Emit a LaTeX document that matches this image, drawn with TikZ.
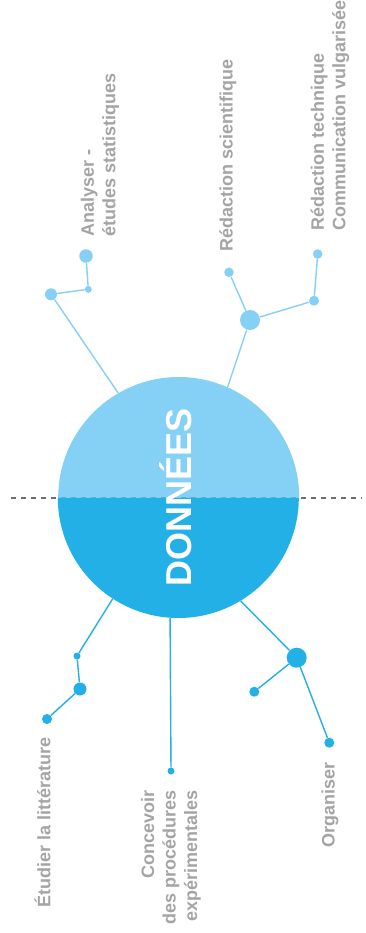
\documentclass[tikz,border=0pt]{standalone}
\usepackage{fontspec}
\setmainfont{Liberation Sans}
\definecolor{cUp}{HTML}{85D0F5}
\definecolor{cLo}{HTML}{22B0E6}
\definecolor{cTxt}{HTML}{A4A4A4}
\definecolor{cDash}{HTML}{6D6E70}
\tikzset{
  dotU/.style={circle, fill=cUp, inner sep=0pt, draw=none},
  dotL/.style={circle, fill=cLo, inner sep=0pt, draw=none},
  linkU/.style={draw=cUp, line width=1.4pt},
  linkL/.style={draw=cLo, line width=1.4pt},
  lab/.style={rotate=90, inner sep=0pt, text=cTxt, font=\bfseries\fontsize{18}{21.5}\selectfont},
}
\begin{document}
\begin{tikzpicture}[x=1pt, y=-1pt]
\useasboundingbox (0,0) rectangle (366,933);
% dashed axis
\draw[cDash, line width=2pt, dash pattern=on 5pt off 5pt] (11,497.5) -- (362,497.5);
% central circle
\node[circle, minimum size=241pt, inner sep=0pt] (D) at (178.5,497.5) {};
\fill[cUp] (D.east) arc[start angle=0, end angle=180, radius=120.5pt] -- cycle;
\fill[cLo] (D.west) arc[start angle=180, end angle=360, radius=120.5pt] -- cycle;
\node[rotate=90, anchor=south, inner sep=0pt, text=white, font=\bfseries\fontsize{36}{36}\selectfont] (T) at (191.7,497.5) {DONNÉES};
% upper-left branch
\node[dotU, minimum size=12pt] (uL1) at (51,294.3) {};
\node[dotU, minimum size=7pt] (uL2) at (88.3,289.3) {};
\node[dotU, minimum size=13.5pt] (uL3) at (86,256) {};
\draw[linkU] (D.120.7) -- (uL1) -- (uL2) -- (uL3);
% upper-right branch
\node[dotU, minimum size=20pt] (uR1) at (250,320) {};
\node[dotU, minimum size=9.5pt] (uR2) at (229,272.3) {};
\node[dotU, minimum size=10pt] (uR3) at (314,300.7) {};
\node[dotU, minimum size=9.5pt] (uR4) at (317.7,254) {};
\draw[linkU] (D.66) -- (uR1) -- (uR2);
\draw[linkU] (uR1) -- (uR3) -- (uR4);
% bottom-left branch
\node[dotL, minimum size=7pt] (bL1) at (77,656) {};
\node[dotL, minimum size=13pt] (bL2) at (80,689) {};
\node[dotL, minimum size=10pt] (bL3) at (47,719) {};
\draw[linkL] (D.237.4) -- (bL1) -- (bL2) -- (bL3);
% bottom-middle branch
\node[dotL, minimum size=7pt] (bM) at (171,771) {};
\draw[linkL] (D.266.4) -- (bM);
% bottom-right branch
\node[dotL, minimum size=20pt] (bR1) at (296.7,657.7) {};
\node[dotL, minimum size=10pt] (bR2) at (254.3,691.7) {};
\node[dotL, minimum size=10pt] (bR3) at (329.3,742.7) {};
\draw[linkL] (D.301) -- (bR1) -- (bR2);
\draw[linkL] (bR1) -- (bR3);
% labels
\node[lab, anchor=west, align=left] (tA) at (100,237) {Analyser -\\études statistiques};
\node[lab, anchor=west] (tRS) at (228,252) {Rédaction scientifique};
\node[lab, anchor=west, align=left] (tRT) at (330,231) {Rédaction technique\\Communication vulgarisée};
\node[lab, anchor=west] (tE) at (42.5,908) {Étudier la littérature};
\node[lab, anchor=east, align=right] (tC) at (171,790) {Concevoir\\des procédures\\expérimentales};
\node[lab, anchor=west] (tO) at (330,848) {Organiser};
\end{tikzpicture}
\end{document}
